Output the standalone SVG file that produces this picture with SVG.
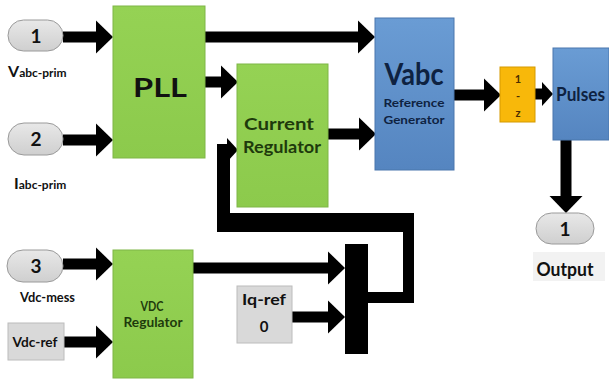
<svg xmlns="http://www.w3.org/2000/svg" width="609" height="381" viewBox="0 0 609 381">
<defs>
<linearGradient id="gGreen" x1="0" y1="0" x2="0" y2="1"><stop offset="0" stop-color="#95d254"/><stop offset="1" stop-color="#8cca4c"/></linearGradient>
<linearGradient id="gBlue" x1="0" y1="0" x2="0" y2="1"><stop offset="0" stop-color="#6a9cd4"/><stop offset="1" stop-color="#5585c0"/></linearGradient>
<linearGradient id="gPill" x1="0" y1="0" x2="0" y2="1"><stop offset="0" stop-color="#e8e8e8"/><stop offset="1" stop-color="#cfcfcf"/></linearGradient>
<marker id="ah" markerUnits="userSpaceOnUse" markerWidth="17" markerHeight="33" refX="0" refY="16.5" orient="auto" overflow="visible"><path d="M0,0 L17,16.5 L0,33 Z" fill="#000"/></marker>
<marker id="ahs" markerUnits="userSpaceOnUse" markerWidth="11" markerHeight="24" refX="0" refY="12" orient="auto" overflow="visible"><path d="M0,0 L11,12 L0,24 Z" fill="#000"/></marker>
</defs>
<style>
.green{fill:url(#gGreen);stroke:#7fb646;stroke-width:1}
.blue{fill:url(#gBlue);stroke:#4a76ad;stroke-width:1}
.pill{fill:url(#gPill);stroke:#9a9a9a;stroke-width:1}
.gbox{fill:#d9d9d9;stroke:#bcbcbc;stroke-width:1}
.t{font-family:Lato,"Open Sans","Liberation Sans",sans-serif;font-weight:bold}
.c{text-anchor:middle}
.dg{fill:#1e3a0c}
.db{fill:#0e2241}
.k{fill:#111}
.w{stroke:#000;stroke-width:11;fill:none}
</style>

<g id="connectors">
<line class="w" x1="63" y1="37" x2="96" y2="37" marker-end="url(#ah)"/>
<line class="w" x1="63" y1="140" x2="96" y2="140" marker-end="url(#ah)"/>
<line class="w" x1="205" y1="37" x2="358" y2="37" marker-end="url(#ah)"/>
<line class="w" x1="205" y1="82" x2="221" y2="82" marker-end="url(#ah)"/>
<line class="w" x1="328" y1="134" x2="359" y2="134" marker-end="url(#ah)"/>
<line class="w" x1="454" y1="95" x2="484" y2="95" marker-end="url(#ah)"/>
<line class="w" x1="535" y1="94" x2="542" y2="94" marker-end="url(#ahs)"/>
<line class="w" x1="566" y1="140" x2="566" y2="196" stroke-width="12" marker-end="url(#ah)"/>
<line class="w" x1="63" y1="264" x2="96" y2="264" marker-end="url(#ah)"/>
<line class="w" x1="64" y1="342" x2="96" y2="342" marker-end="url(#ah)"/>
<line class="w" x1="193" y1="268" x2="328" y2="268" marker-end="url(#ah)"/>
<line class="w" x1="292" y1="317" x2="328" y2="317" marker-end="url(#ah)"/>
<rect x="345" y="244" width="23" height="110" fill="#000"/>
<rect x="366" y="292" width="48" height="11" fill="#000"/>
<rect x="403" y="213" width="11" height="90" fill="#000"/>
<rect x="217" y="213" width="197" height="19" fill="#000"/>
<rect x="217" y="144" width="13" height="88" fill="#000"/>
<line class="w" x1="217" y1="150" x2="227" y2="150" stroke-width="11" marker-end="url(#ahs)"/>
</g>

<g id="in1"><rect class="pill" x="8" y="20" width="55" height="31" rx="15.5"/><text class="t c k" x="36" y="43" font-size="19">1</text></g>
<text class="t k" x="8" y="77" font-size="16">V<tspan font-size="12">abc-prim</tspan></text>
<g id="in2"><rect class="pill" x="8" y="123" width="55" height="32" rx="16"/><text class="t c k" x="36" y="146" font-size="19">2</text></g>
<text class="t k" x="14" y="189" font-size="16">I<tspan font-size="12">abc-prim</tspan></text>
<g id="in3"><rect class="pill" x="7" y="250" width="56" height="32" rx="16"/><text class="t c k" x="36" y="273" font-size="19">3</text></g>
<text class="t k" x="20" y="302" font-size="13" textLength="55" lengthAdjust="spacingAndGlyphs">Vdc-mess</text>
<g id="vdcref"><rect class="gbox" x="8" y="323" width="56" height="37"/><text class="t c k" x="35" y="347" font-size="13" textLength="45" lengthAdjust="spacingAndGlyphs">Vdc-ref</text></g>

<g id="pll"><rect class="green" x="113" y="6" width="92" height="152"/><text class="t c k" x="160" y="97" font-size="27" textLength="54" lengthAdjust="spacingAndGlyphs">PLL</text></g>
<g id="currentreg"><rect class="green" x="237" y="64" width="91" height="143"/>
<text class="t c dg" x="279" y="130" font-size="17" textLength="70" lengthAdjust="spacingAndGlyphs">Current</text>
<text class="t c dg" x="282" y="153" font-size="17" textLength="78" lengthAdjust="spacingAndGlyphs">Regulator</text></g>
<g id="vdcreg"><rect class="green" x="113" y="250" width="80" height="128"/>
<text class="t c dg" x="152" y="311" font-size="13" textLength="23" lengthAdjust="spacingAndGlyphs">VDC</text>
<text class="t c dg" x="153" y="327" font-size="13" textLength="59" lengthAdjust="spacingAndGlyphs">Regulator</text></g>
<g id="iqref"><rect class="gbox" x="237" y="286" width="55" height="57"/>
<text class="t c k" x="264" y="305" font-size="15" textLength="44" lengthAdjust="spacingAndGlyphs">Iq-ref</text>
<text class="t c k" x="264" y="332" font-size="15">0</text></g>
<g id="vabc"><rect class="blue" x="375" y="18" width="79" height="152"/>
<text class="t c db" x="414" y="85" font-size="30" textLength="59" lengthAdjust="spacingAndGlyphs">Vabc</text>
<text class="t c db" x="414" y="107" font-size="11" textLength="61" lengthAdjust="spacingAndGlyphs">Reference</text>
<text class="t c db" x="414" y="124" font-size="11" textLength="61" lengthAdjust="spacingAndGlyphs">Generator</text></g>
<g id="delay"><rect x="500" y="67" width="35" height="55" fill="#f8b80a" stroke="#d59a00" stroke-width="1"/>
<text class="t c" x="518" y="83" font-size="11" fill="#4a2e00">1</text>
<text class="t c" x="518" y="100" font-size="11" fill="#4a2e00">-</text>
<text class="t c" x="518" y="117" font-size="11" fill="#4a2e00">z</text></g>
<g id="pulses"><rect class="blue" x="553" y="48" width="56" height="92"/>
<text class="t db" x="556" y="101" font-size="18" textLength="49" lengthAdjust="spacingAndGlyphs">Pulses</text></g>
<g id="out1"><rect class="pill" x="536" y="213" width="58" height="31" rx="15.5"/><text class="t c k" x="565" y="236" font-size="19">1</text></g>
<rect x="533" y="252" width="72" height="29" fill="#f2f2f2"/>
<text class="t c k" x="565" y="276" font-size="18" textLength="57" lengthAdjust="spacingAndGlyphs">Output</text>
</svg>
